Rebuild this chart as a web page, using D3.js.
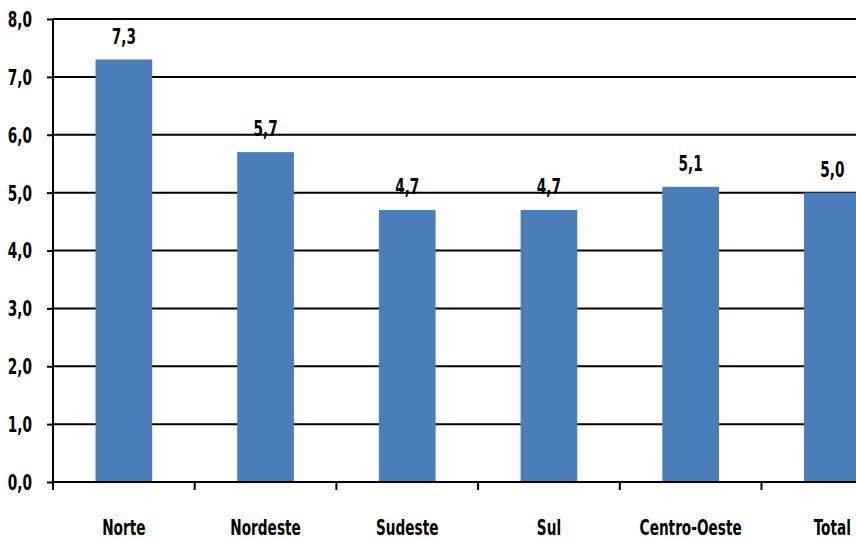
<!DOCTYPE html>
<html>
<head>
<meta charset="utf-8">
<script src="https://cdn.jsdelivr.net/npm/d3@7/dist/d3.min.js"></script>
<style>
  html, body { margin: 0; padding: 0; background: #fff; }
  svg text { font-family: "Liberation Sans Narrow", "DejaVu Sans Condensed", sans-serif; font-weight: bold; fill: #000; }
</style>
</head>
<body>
<svg id="chart" width="856" height="539"></svg>
<script>
// Regions and their values
const regions = ["Norte", "Nordeste", "Sudeste", "Sul", "Centro-Oeste", "Total"];
const values = [7.3, 5.7, 4.7, 4.7, 5.1, 5.0];
const yTicks = [0, 1, 2, 3, 4, 5, 6, 7, 8];

const svg = d3.select("#chart");
const margin = { left: 53, top: 19, bottom: 57 };
const bandW = 141.7;
const plotW = bandW * regions.length;
const plotH = 539 - margin.top - margin.bottom;
const narrow = 0.69;      // horizontal squeeze for a condensed look
const fontSize = 22;

const x = d3.scaleBand().domain(regions).range([margin.left, margin.left + plotW]).paddingInner(0.6).paddingOuter(0.3);
const y = d3.scaleLinear().domain([0, 8]).range([margin.top + plotH, margin.top]);
const fmt = d => d.toFixed(1).replace(".", ",");

// Places condensed text at (px, py)
function label(sel, px, py, anchor, dy) {
  return sel
    .attr("transform", (d, i) => `translate(${px(d, i)},${py(d, i)}) scale(${narrow},1)`)
    .attr("text-anchor", anchor)
    .attr("dy", dy || 0)
    .attr("font-size", fontSize);
}

// Horizontal gridlines
svg.append("g").selectAll("line").data(yTicks.filter(t => t > 0)).join("line")
  .attr("x1", margin.left).attr("x2", margin.left + plotW)
  .attr("y1", d => y(d)).attr("y2", d => y(d))
  .attr("stroke", "#000").attr("stroke-width", 2);

// Bars
svg.append("g").selectAll("rect").data(values).join("rect")
  .attr("x", (d, i) => x(regions[i]))
  .attr("width", x.bandwidth())
  .attr("y", d => y(d))
  .attr("height", d => y(0) - y(d))
  .attr("fill", "#4a7ebb");

// Value labels
label(svg.append("g").selectAll("text").data(values).join("text"),
  (d, i) => x(regions[i]) + x.bandwidth() / 2, d => y(d) - 16, "middle")
  .text(fmt);

// Y axis
const yAxis = svg.append("g").attr("transform", `translate(${margin.left},0)`)
  .call(d3.axisLeft(y).tickValues(yTicks).tickFormat("").tickSize(6));
yAxis.select(".domain").attr("d", `M0,${y(8)}V${y(0) + 8}`).attr("stroke", "#000").attr("stroke-width", 2);
yAxis.selectAll(".tick line").attr("stroke", "#000").attr("stroke-width", 2);
label(svg.append("g").selectAll("text").data(yTicks).join("text"),
  () => margin.left - 21, d => y(d), "end", "0.36em")
  .text(fmt);

// X axis: baseline with ticks at band boundaries
const xg = svg.append("g");
xg.append("line")
  .attr("x1", margin.left).attr("x2", margin.left + plotW)
  .attr("y1", y(0)).attr("y2", y(0))
  .attr("stroke", "#000").attr("stroke-width", 2);
xg.selectAll("line.tk").data(d3.range(1, regions.length + 1)).join("line")
  .attr("class", "tk")
  .attr("x1", i => margin.left + i * bandW).attr("x2", i => margin.left + i * bandW)
  .attr("y1", y(0)).attr("y2", y(0) + 8)
  .attr("stroke", "#000").attr("stroke-width", 2);
label(xg.selectAll("text").data(regions).join("text"),
  d => x(d) + x.bandwidth() / 2, () => y(0) + 53, "middle")
  .text(d => d);
</script>
</body>
</html>
